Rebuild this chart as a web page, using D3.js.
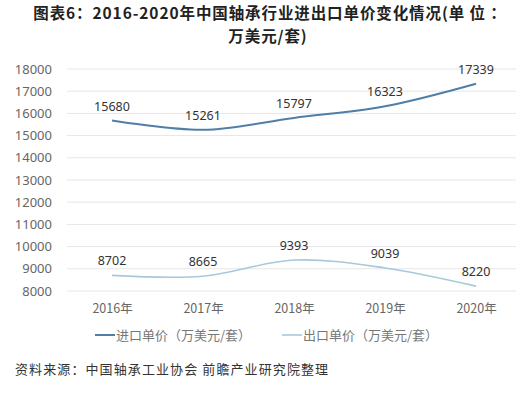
<!DOCTYPE html>
<html>
<head>
<meta charset="utf-8">
<script src="https://cdn.jsdelivr.net/npm/d3@7"></script>
<style>
body { margin: 0; background: #fff; }
svg { font-family: "Noto Sans CJK SC", "Noto Sans", sans-serif; }
</style>
</head>
<body>
<div id="chart"></div>
<script>
var years = ['2016年', '2017年', '2018年', '2019年', '2020年'];
var importPrice = [15680, 15261, 15797, 16323, 17339];
var exportPrice = [8702, 8665, 9393, 9039, 8220];
var yTicks = [8000, 9000, 10000, 11000, 12000, 13000, 14000, 15000, 16000, 17000, 18000];
var seriesNames = ['进口单价（万美元/套）', '出口单价（万美元/套）'];
var colors = ['#4f7fa6', '#a8c8dc'];

var width = 524, height = 397;

var svg = d3.select('#chart').append('svg')
    .attr('width', width)
    .attr('height', height);

// title, two lines
var title = svg.append('text')
    .attr('font-weight', 'bold')
    .attr('font-size', 15.5)
    .attr('fill', '#222')
    .attr('letter-spacing', 0.9)
    .attr('text-anchor', 'middle');
title.append('tspan').attr('x', 270).attr('y', 19)
    .text('图表6：2016-2020年中国轴承行业进出口单价变化情况(单 位 ：');
title.append('tspan').attr('x', 268).attr('y', 42)
    .text('万美元/套)');

var x = d3.scalePoint().domain(years).range([112, 476]);
var y = d3.scaleLinear().domain([8000, 18000]).range([291, 69]);

// grid
svg.append('g')
    .selectAll('line')
    .data(yTicks)
    .enter()
    .append('line')
    .attr('x1', 67).attr('x2', 516)
    .attr('y1', function(d) { return y(d); })
    .attr('y2', function(d) { return y(d); })
    .attr('stroke', '#e6e6e6')
    .attr('stroke-width', 1);

var yAxis = svg.append('g')
    .attr('transform', 'translate(52,0)')
    .call(d3.axisLeft(y).tickValues(yTicks).tickSize(0).tickPadding(0).tickFormat(d3.format('d')));
yAxis.select('.domain').remove();
yAxis.selectAll('text')
    .attr('font-size', 13)
    .attr('fill', '#666')
    .attr('font-family', '"Noto Sans", sans-serif');

var xAxis = svg.append('g')
    .attr('transform', 'translate(0,304)')
    .call(d3.axisBottom(x).tickSize(0).tickPadding(0));
xAxis.select('.domain').remove();
xAxis.selectAll('text')
    .attr('font-size', 12.5)
    .attr('fill', '#666')
    .attr('font-family', '"Noto Sans CJK SC", sans-serif');

var line = d3.line()
    .x(function(d, i) { return x(years[i]); })
    .y(function(d) { return y(d); })
    .curve(d3.curveCatmullRom.alpha(0.5));

[importPrice, exportPrice].forEach(function(s, k) {
    svg.append('path')
        .datum(s)
        .attr('fill', 'none')
        .attr('stroke', colors[k])
        .attr('stroke-width', k == 0 ? 2 : 1.6)
        .attr('d', line);
    svg.append('g')
        .selectAll('text')
        .data(s)
        .enter()
        .append('text')
        .attr('x', function(d, i) { return x(years[i]); })
        .attr('y', function(d) { return y(d) - 10; })
        .attr('text-anchor', 'middle')
        .attr('font-size', 12.5)
        .attr('fill', '#333')
        .attr('font-family', '"Noto Sans", sans-serif')
        .text(function(d) { return d; });
});

// legend
var legendX = [95, 282];
seriesNames.forEach(function(n, k) {
    var g = svg.append('g').attr('transform', 'translate(' + legendX[k] + ',335)');
    g.append('line')
        .attr('x1', 0).attr('x2', 20)
        .attr('stroke', colors[k])
        .attr('stroke-width', k == 0 ? 2 : 1.6);
    g.append('text')
        .attr('x', 21).attr('dy', '0.35em')
        .attr('font-size', 13)
        .attr('fill', '#777')
        .text(n);
});

// source
svg.append('text')
    .attr('x', 15).attr('y', 374)
    .attr('font-size', 13)
    .attr('fill', '#333')
    .attr('letter-spacing', 1.1)
    .text('资料来源：中国轴承工业协会 前瞻产业研究院整理');
</script>
</body>
</html>
